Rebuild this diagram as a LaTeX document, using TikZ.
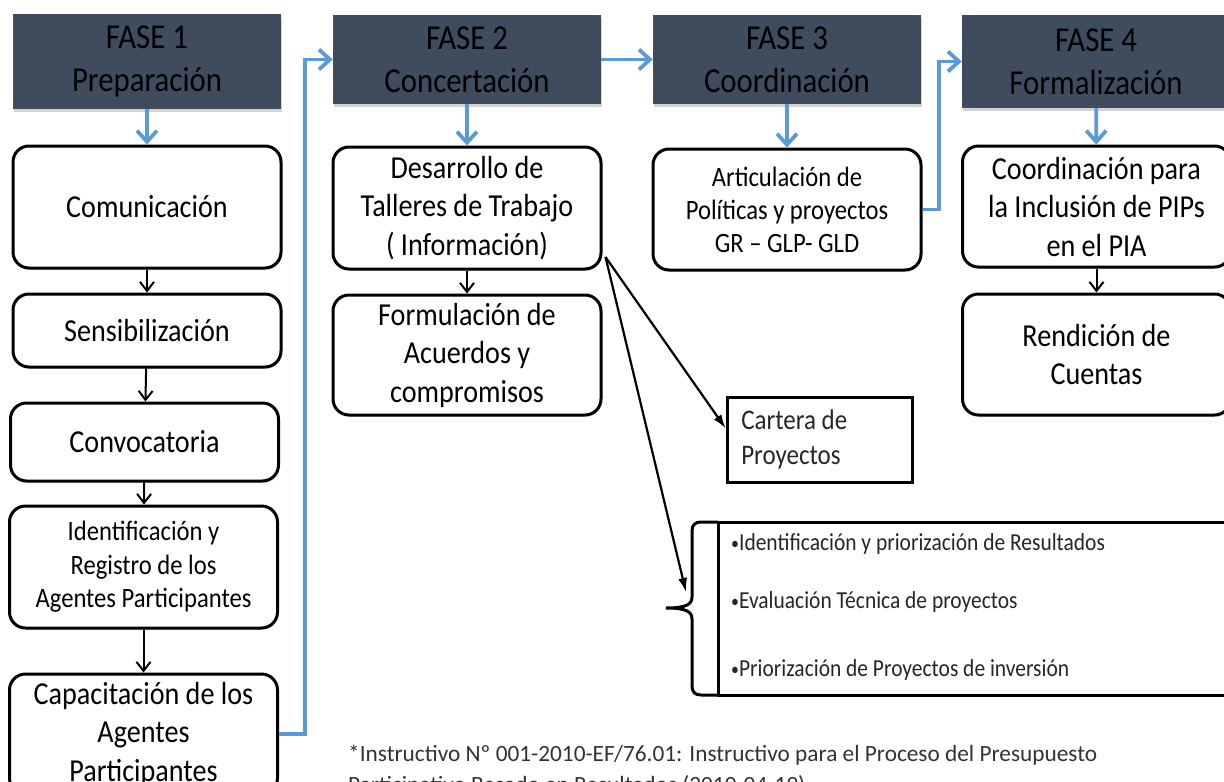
\documentclass[tikz,border=0pt]{standalone}
\usepackage{fontspec}
\setmainfont{Carlito}[FakeStretch=0.88]
\newfontfamily\notafont{Carlito}
\usetikzlibrary{arrows.meta,shadows}
\definecolor{pizarra}{RGB}{62,76,94}
\definecolor{azul}{RGB}{91,155,213}
\newcommand\vineta{{\fontsize{18}{18}\selectfont\raisebox{1pt}{•}}}
\tikzset{every node/.append style={transform shape=false}}
\tikzset{fase/.style={fill=pizarra,minimum width=268pt,inner sep=0pt,align=center,
  font=\fontsize{35}{43}\selectfont,
  drop shadow={shadow xshift=1pt,shadow yshift=-3pt,opacity=.35}}}
\tikzset{paso/.style={draw,line width=3pt,rounded corners=16pt,fill=white,
  minimum width=268pt,inner sep=0pt,align=center,font=\fontsize{32}{38.5}\selectfont,
  drop shadow={shadow xshift=1pt,shadow yshift=-2pt,opacity=.2}}}
\tikzset{chico/.style={font=\fontsize{28}{33.5}\selectfont}}
\tikzset{azulfl/.style={draw=azul,line width=3.8pt,-{Straight Barb[length=11pt,width=20pt]}}}
\tikzset{negrafl/.style={line width=2pt,-{Straight Barb[length=9pt,width=14pt]}}}
\tikzset{diagfl/.style={line width=2.2pt,-{Latex[length=14pt,width=9pt]}}}
\tikzset{item/.style={anchor=west,inner sep=0pt,text=black!85,font=\fontsize{24.4}{26}\selectfont}}

\begin{document}
\begin{tikzpicture}[x=1pt,y=-1pt]
  \fill[white] (0,0) rectangle (1224,782);
  \useasboundingbox (0,0) rectangle (1224,782);
  \node[fase,minimum height=95pt] (f1) at (147,61.5) {FASE 1\\Preparación};
  \node[fase,minimum height=89pt] (f2) at (467,59.5) {FASE 2\\Concertación};
  \node[fase,minimum height=89pt] (f3) at (787,59.5) {FASE 3\\Coordinación};
  \node[fase,minimum height=93pt] (f4) at (1096,61.5) {FASE 4\\Formalización};
  \node[paso,minimum height=122pt] (com) at (147,207) {Comunicación};
  \node[paso,minimum height=73pt] (sen) at (147,330.5) {Sensibilización};
  \node[paso,minimum height=78pt] (conv) at (144.5,442) {Convocatoria};
  \node[paso,chico,minimum height=122pt] (iden) at (143.5,567)
    {Identificación y\\Registro de los\\Agentes Participantes};
  \node[paso,minimum height=120pt] (cap) at (143.5,734)
    {Capacitación de los\\Agentes\\Participantes};
  \node[paso,minimum height=122pt] (des) at (467,208)
    {Desarrollo de\\Talleres de Trabajo\\( Información)};
  \node[paso,minimum height=120pt] (form) at (467,355)
    {Formulación de\\Acuerdos y\\compromisos};
  \node[paso,minimum height=121pt,font=\fontsize{28}{33}\selectfont] (art) at (787,209.5)
    {Articulación de\\Políticas y proyectos\\GR – GLP- GLD};
  \node[paso,minimum height=121pt] (coor) at (1096.5,206.5)
    {Coordinación para\\la Inclusión de PIPs\\en el PIA};
  \node[paso,minimum height=121pt] (rend) at (1096.5,354.5) {Rendición de\\Cuentas};
  \node[draw,line width=3pt,minimum width=185.5pt,minimum height=85pt,
    inner xsep=14pt,text width=157.5pt,align=flush left,
    font=\fontsize{28.4}{35}\selectfont,text=black!85] (cart) at (820,439.5)
    {Cartera de\\Proyectos};
  \draw[line width=3pt] (1232,522) -- (718,522) -- (718,695) -- (1232,695);
  \draw[line width=3pt] (718,522) -- (701,522) .. controls (695,522) and (692,525) .. (692,531)
    -- (692,597) .. controls (692,604) and (687,608) .. (666,608)
    .. controls (687,608) and (692,612) .. (692,619) -- (692,686)
    .. controls (692,692) and (695,695) .. (701,695) -- (718,695);
  \node[item] (r1) at (731,544) {\vineta Identificación y priorización de Resultados};
  \node[item] (r2) at (731,602) {\vineta Evaluación Técnica de proyectos};
  \node[item] (r3) at (731,670) {\vineta Priorización de Proyectos de inversión};
  \node[anchor=north west,inner sep=0pt,align=left,text=black!80,
    font=\notafont\fontsize{23.3}{31}\selectfont] (nota) at (348,745)
    {*Instructivo Nº 001-2010-EF/76.01: Instructivo para el Proceso del Presupuesto\\
     Participativo Basado en Resultados (2010-04-19)};
  \draw[azulfl] (f1) -- (com);
  \draw[azulfl] (f2) -- (des);
  \draw[azulfl] (f3) -- (art);
  \draw[azulfl] (f4) -- (coor);
  \draw[azulfl] (f2) -- (f3);
  \draw[azulfl] (cap.east) -- ++(26,0) |- (f2.west);
  \draw[azulfl] (art.east) -- ++(16.5,0) |- (f4.west);
  \draw[negrafl] (com) -- (sen);
  \draw[negrafl] (sen) -- (conv);
  \draw[negrafl] (conv) -- (iden);
  \draw[negrafl] (iden) -- (cap);
  \draw[negrafl] (des) -- (form);
  \draw[negrafl] (coor) -- (rend);
  \coordinate (dsal) at ([shift={(3,49)}]des.east);
  \coordinate (llave) at (686,592);
  \draw[diagfl] (dsal) -- ([yshift=11pt]cart.west);
  \draw[diagfl] (dsal) -- (llave);
\end{tikzpicture}
\end{document}
